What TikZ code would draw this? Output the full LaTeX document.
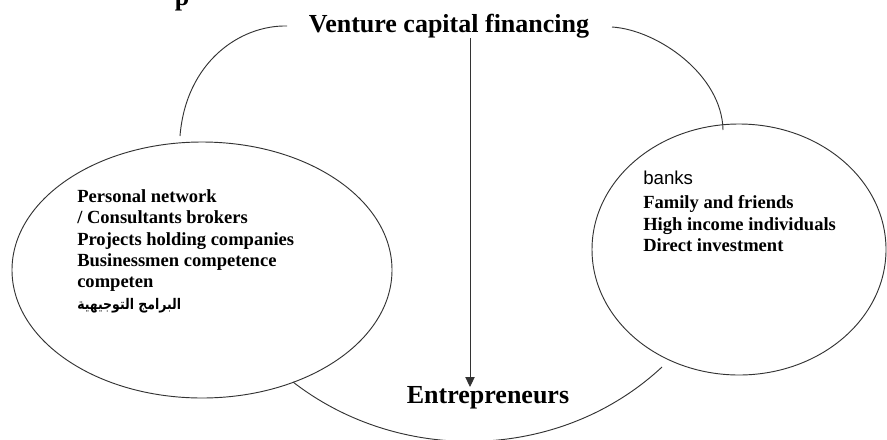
\documentclass[tikz,border=0pt]{standalone}
\usepackage{fontspec}
\usepackage{graphicx}
\setmainfont{Liberation Serif}
\newfontfamily\sansf{Liberation Sans}
\newfontfamily\arabicfont[Script=Arabic]{DejaVu Sans}
\TeXXeTstate=1
\usetikzlibrary{arrows.meta,shapes.geometric}
\begin{document}
\begin{tikzpicture}[x=0.75pt,y=-0.75pt,
  line/.style={draw=black!80, line width=0.7pt},
  bigtitle/.style={font=\bfseries\fontsize{19.5pt}{22pt}\selectfont, inner sep=0pt},
  listtext/.style={font=\bfseries\fontsize{13.9pt}{16pt}\selectfont, inner sep=0pt, align=left},
  bubble/.style={ellipse, draw=black!80, line width=0.7pt, inner sep=0pt}]
\useasboundingbox (0,0) rectangle (887,439);
% cut-off fragment at top
\node[bigtitle, anchor=base] (pfrag) at (182,5) {p};
% titles
\node[bigtitle, anchor=base] (vc) at (449,32) {Venture capital financing};
\node[bigtitle, anchor=base] (ent) at (488,403) {Entrepreneurs};
% bubbles
\node[bubble, minimum width=285pt, minimum height=192pt] (le) at (202,270) {};
\node[bubble, minimum width=220.5pt, minimum height=188.25pt] (re) at (739,249.5) {};
% texts
\node[listtext, anchor=north west] (lt) at (77,189.5) {Personal network\\/ Consultants brokers\\Projects holding companies\\Businessmen competence\\competen\\\scalebox{0.85}[1]{\arabicfont\bfseries\fontsize{11pt}{13pt}\selectfont\beginR البرامج التوجيهية\endR}};
\node[font=\sansf\fontsize{14pt}{16pt}\selectfont, inner sep=0pt, anchor=base west] (banks) at (643,184) {banks};
\node[listtext, anchor=north west] (rt) at (643,195.5) {Family and friends\\High income individuals\\Direct investment};
% connector end points
\coordinate (vcL) at (287,26);
\coordinate (vcR) at (612,27);
\coordinate (vcB) at (470,38);
\coordinate (entT) at (470,387);
\coordinate (leT) at (180,136);
\coordinate (reT) at (723,130);
\coordinate (leB) at (293,382);
\coordinate (reB) at (662,367);
% connectors
\draw[line] (vcL) .. controls (240,25) and (186,62) .. (leT);
\draw[line] (vcR) .. controls (658,30) and (722,75) .. (reT);
\draw[line, -{Triangle[length=7.5pt,width=7pt]}] (vcB) -- (entT);
\draw[line] (leB) .. controls (400,465) and (560,462) .. (reB);
\end{tikzpicture}
\end{document}
